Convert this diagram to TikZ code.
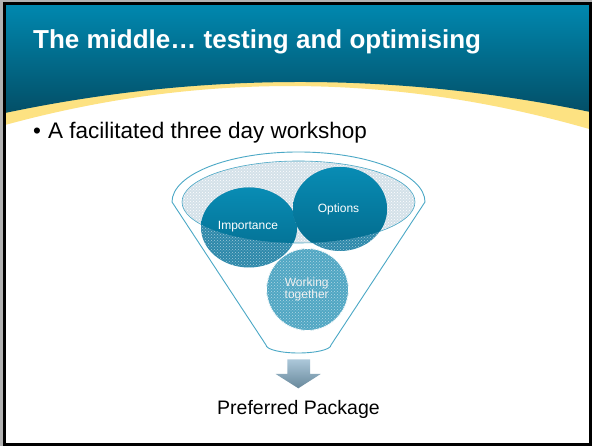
\documentclass[tikz,border=0pt]{standalone}
\usepackage{fontspec}
\setmainfont{Liberation Sans}
\usepackage{tikz}
\usetikzlibrary{shapes.geometric}
\usetikzlibrary{patterns}
\definecolor{hdtop}{RGB}{0,138,178}
\definecolor{hdbot}{RGB}{3,78,102}
\definecolor{rim}{RGB}{253,226,130}
\definecolor{funnelline}{RGB}{75,168,198}
\definecolor{basin}{RGB}{212,225,233}
\definecolor{balltop}{RGB}{8,140,180}
\definecolor{ballbot}{RGB}{3,106,140}
\definecolor{ballhatch}{RGB}{45,136,170}
\definecolor{wtogether}{RGB}{80,166,195}
\definecolor{arrtop}{RGB}{172,200,218}
\definecolor{arrbot}{RGB}{104,136,155}
\tikzstyle{title}=[text=white, inner sep=0pt, font=\fontsize{26}{30}\selectfont\bfseries]
\tikzstyle{bullet}=[inner sep=0pt, font=\fontsize{22.5}{26}\selectfont]
\tikzstyle{funnel}=[draw=funnelline, line width=0.9pt]
\tikzstyle{basin}=[draw=funnelline, line width=0.6pt, preaction={fill=basin}, pattern=crosshatch dots, pattern color=white]
\tikzstyle{bubble}=[ellipse, inner sep=0pt, preaction={fill=ballhatch}, pattern=crosshatch dots, pattern color=white!55!ballhatch]
\tikzstyle{wbubble}=[bubble, preaction={fill=wtogether}, pattern color=white!55!wtogether, draw=white, line width=0.8pt]
\tikzstyle{solid}=[top color=balltop, bottom color=ballbot]
\tikzstyle{lbl}=[text=white, inner sep=0pt, align=center, font=\fontsize{12}{11}\selectfont]
\tikzstyle{downarrow}=[top color=arrtop, bottom color=arrbot]
\tikzstyle{pkgtext}=[inner sep=0pt, font=\fontsize{19.5}{23}\selectfont]

\begin{document}
\begin{tikzpicture}[x=1pt, y=1pt]
        \useasboundingbox (0,0) rectangle (592,446);
        \fill[black!30] (0,0) rectangle (592,446);
        \fill[white] (4.5,1.5) rectangle (590.5,442.5);
        % header band
        \begin{scope}
            \clip (4.5,1.5) rectangle (590.5,442.5);
            \fill[rim] (0,446) -- (592,446) -- (592,316.2) .. controls (394.7,373.4) and (197.3,374.5) .. (0,319.6) -- cycle;
            \shade[top color=hdtop, bottom color=hdbot] (0,446) -- (592,446) -- (592,333.65) .. controls (394.7,374.68) and (197.3,374.11) .. (0,331.96) -- cycle;
        \end{scope}
        \draw[line width=3pt] (4.5,1.5) rectangle (590.5,442.5);
        \node[title, anchor=base west] (ttl) at (33,397) {The middle… testing and optimising};
        \node[bullet, anchor=base west] (pt) at (33,307.7) {•\hspace{7pt}A facilitated three day workshop};
        % funnel
        \draw[funnel] (172,244) arc[start angle=180, end angle=0, x radius=126.5, y radius=50] -- (331,101) arc[start angle=0, end angle=-180, x radius=32.5, y radius=8] -- cycle;
        \path[basin] (298.5,244) ellipse[x radius=116.5, y radius=41];
        \node[bubble, minimum width=96pt, minimum height=80pt] (imp) at (249,218.5) {};
        \begin{scope}
            \clip (298.5,244) ellipse[x radius=116.5, y radius=41];
            \shade[solid] (imp.center) ellipse[x radius=48, y radius=40];
        \end{scope}
        \node[bubble, minimum width=94pt, minimum height=84pt] (opt) at (340,237) {};
        \begin{scope}
            \clip (298.5,244) ellipse[x radius=116.5, y radius=41];
            \shade[solid] (opt.center) ellipse[x radius=47, y radius=42];
        \end{scope}
        \node[wbubble, minimum size=82pt] (wt) at (307.5,156.5) {};
        \node[lbl] (implbl) at (248,219) {Importance};
        \node[lbl] (optlbl) at (338.5,237) {Options};
        \node[lbl, text=white!88!gray] (wtlbl) at (306.7,157) {Working\\together};
        % arrow and result
        \shade[downarrow] (287.3,86.7) -- (310,86.7) -- (310,72) -- (320.7,72) -- (298.3,57.7) -- (275.7,72) -- (287.3,72) -- cycle;
        \node[pkgtext, anchor=base] (pkg) at (298.5,31) {Preferred Package};
    \end{tikzpicture}
\end{document}
